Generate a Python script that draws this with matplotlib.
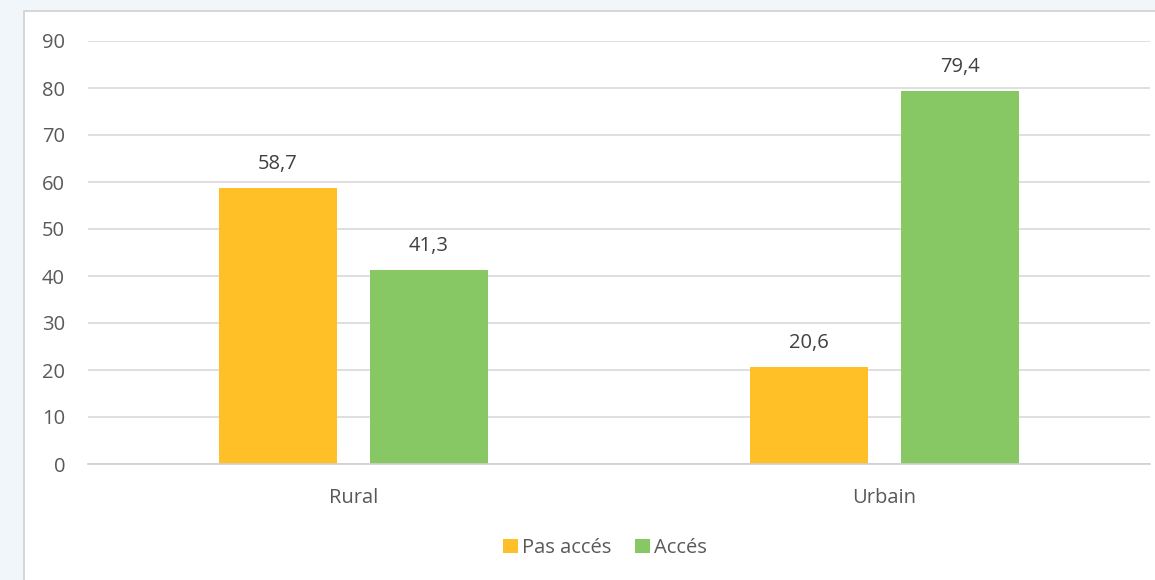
import numpy as np
import matplotlib.pyplot as plt
from matplotlib.patches import Rectangle

categories = ['Rural', 'Urbain']
pas_acces = [58.7, 20.6]
acces = [41.3, 79.4]
series_labels = ['Pas accés', 'Accés']

plt.rcParams['font.family'] = ['Open Sans', 'DejaVu Sans']

fig = plt.figure(figsize=(11.55, 5.8), dpi=100)
fig.patch.set_facecolor('#f0f6fa')

# white chart box with grey border, behind the axes
box = Rectangle((24 / 1155, -0.05), 1.2, 1 - 11 / 580 + 0.05,
                transform=fig.transFigure, facecolor='white',
                edgecolor='#d0d0d0', linewidth=1.2, zorder=-10)
fig.add_artist(box)

ax = fig.add_axes([88 / 1155, 1 - 464 / 580, (1150 - 88) / 1155, (464 - 41) / 580])
ax.set_facecolor('none')
ax.set_zorder(1)

x = np.arange(len(categories))
w = 0.222
off = 0.142
b1 = ax.bar(x - off, pas_acces, w, color='#FFBF27', label=series_labels[0], zorder=2)
b2 = ax.bar(x + off, acces, w, color='#88C864', label=series_labels[1], zorder=2)

for bars, vals in [(b1, pas_acces), (b2, acces)]:
    for r, v in zip(bars, vals):
        ax.text(r.get_x() + r.get_width() / 2, v + 3.0, f'{v:.1f}'.replace('.', ','),
                ha='center', va='bottom', fontsize=14.5, color='#404040')

ax.set_xlim(-0.5, 1.5)
ax.set_ylim(0, 90)
ax.set_yticks(range(0, 91, 10))
ax.set_xticks(x)
ax.set_xticklabels(categories)
ax.yaxis.grid(True, color='#d9d9d9', linewidth=1.2, zorder=0)
ax.set_axisbelow(True)
for s in ['top', 'right', 'left']:
    ax.spines[s].set_visible(False)
ax.spines['bottom'].set_color('#d0d0d0')
ax.spines['bottom'].set_linewidth(1.2)
ax.tick_params(axis='both', length=0, labelsize=14.5, colors='#595959')
ax.tick_params(axis='y', pad=16.5)
ax.tick_params(axis='x', pad=17)

fig.legend(handles=[b1, b2], labels=series_labels, loc='center',
           bbox_to_anchor=(605 / 1155, 1 - 548 / 580), ncol=2, frameon=False,
           fontsize=14.5, labelcolor='#595959', handlelength=0.75, handleheight=0.75,
           handletextpad=0.2, columnspacing=1.2)

fig.savefig('out.png', dpi=100, facecolor=fig.get_facecolor())
